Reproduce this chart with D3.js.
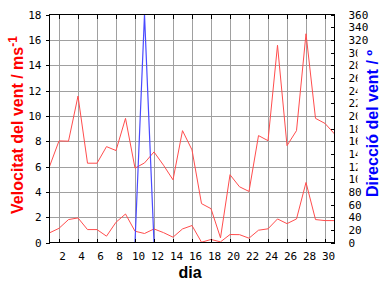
<!DOCTYPE html>
<html>
<head>
<meta charset="utf-8">
<script src="https://cdn.jsdelivr.net/npm/d3@7"></script>
<style>
body { margin: 0; background: white; }
svg { display: block; }
</style>
</head>
<body>
<script>
// days of the month (one point a day, last point repeats the 30th)
const days = d3.range(1, 32);
// average wind speed, m/s
const speedAvg = [0.76, 1.12, 1.81, 1.94, 1.02, 1.02, 0.5, 1.6, 2.25, 0.89, 0.71, 1.07, 0.78, 0.42, 1.07, 1.34, 0.02, 0.24, 0.05, 0.63, 0.62, 0.34, 0.97, 1.08, 1.86, 1.49, 1.86, 4.74, 1.81, 1.73, 1.73];
// max wind speed (gust), m/s
const speedMax = [6.0, 8.02, 8.0, 11.56, 6.26, 6.26, 7.57, 7.26, 9.8, 5.87, 6.28, 7.15, 6.1, 4.95, 8.83, 7.31, 3.07, 2.67, 0.37, 5.35, 4.4, 4.03, 8.44, 8.04, 15.57, 7.65, 8.83, 16.48, 9.8, 9.4, 8.57];
// wind direction, degrees
const direction = [0, 0, 0, 0, 0, 0, 0, 0, 0, 0, 360, 0, 0, 0, 0, 0, 0, 0, 0, 0, 0, 0, 0, 0, 0, 0, 0, 0, 0, 0, 0];

const xTicks = d3.range(2, 31, 2);
const speedTicks = d3.range(0, 19, 2);
const dirTicks = d3.range(0, 361, 20);

const width = 384, height = 288;
const plotL = 49.5, plotR = 334.5, plotT = 14.5, plotB = 242.5;

const svg = d3.select("body").append("svg")
    .attr("width", width)
    .attr("height", height)
    .style("background", "white");

const x = d3.scaleLinear().domain([1, 31]).range([plotL, plotR]);
const y = d3.scaleLinear().domain([0, 18]).range([plotB, plotT]);
const yDir = d3.scaleLinear().domain([0, 360]).range([plotB, plotT]);

// grid
const grid = svg.append("g")
    .attr("stroke", "#a0a0a0")
    .attr("shape-rendering", "crispEdges");
grid.selectAll(".gx").data(xTicks).enter().append("line")
    .attr("x1", d => Math.round(x(d)) + 0.5).attr("x2", d => Math.round(x(d)) + 0.5)
    .attr("y1", plotT).attr("y2", plotB);
grid.selectAll(".gy").data(speedTicks.filter(d => d > 0 && d < 18)).enter().append("line")
    .attr("x1", plotL).attr("x2", plotR)
    .attr("y1", d => Math.round(y(d)) + 0.5).attr("y2", d => Math.round(y(d)) + 0.5);

// lines
const line = d3.line().x((d, i) => x(days[i])).y(d => y(d));
const lineDir = d3.line().x((d, i) => x(days[i])).y(d => yDir(d));

svg.append("path").datum(speedMax)
    .attr("d", line).attr("fill", "none")
    .attr("stroke", "#ff4d4d").attr("stroke-width", 1);
svg.append("path").datum(speedAvg)
    .attr("d", line).attr("fill", "none")
    .attr("stroke", "#ff4d4d").attr("stroke-width", 1);
svg.append("path").datum(direction)
    .attr("d", lineDir).attr("fill", "none")
    .attr("stroke", "#4a4aff").attr("stroke-width", 1.2);

// axes
const tickFont = "'DejaVu Sans Mono', monospace";

const yAxis = svg.append("g")
    .attr("transform", `translate(${plotL},0)`)
    .call(d3.axisLeft(y).tickValues(speedTicks).tickSizeInner(4).tickSizeOuter(0).tickPadding(4));

const yAxisR = svg.append("g")
    .attr("transform", `translate(${plotR},0)`)
    .call(d3.axisRight(yDir).tickValues(dirTicks).tickSizeInner(-4).tickSizeOuter(0).tickPadding(14));

const xAxis = svg.append("g")
    .attr("transform", `translate(0,${plotB})`)
    .call(d3.axisBottom(x).tickValues(xTicks).tickSizeInner(-4).tickSizeOuter(0).tickPadding(10));

const xAxisTop = svg.append("g")
    .attr("transform", `translate(0,${plotT})`)
    .call(d3.axisTop(x).tickValues(xTicks).tickSizeInner(-4).tickSizeOuter(0).tickFormat(""));

[yAxis, yAxisR, xAxis, xAxisTop].forEach(a => {
    a.select(".domain").remove();
    a.selectAll("line").attr("stroke", "#000").attr("shape-rendering", "crispEdges");
    a.selectAll("text")
        .attr("font-family", tickFont)
        .attr("font-size", 11)
        .attr("fill", "#000");
});
xAxis.selectAll("text").attr("dx", 3);

// frame
svg.append("rect")
    .attr("x", plotL).attr("y", plotT)
    .attr("width", plotR - plotL).attr("height", plotB - plotT)
    .attr("fill", "none").attr("stroke", "#000")
    .attr("shape-rendering", "crispEdges");

// titles
svg.append("text")
    .attr("transform", "translate(23,125) rotate(-90)")
    .attr("text-anchor", "middle")
    .attr("font-family", "'Liberation Sans', Arial, sans-serif")
    .attr("font-weight", "bold")
    .attr("font-size", 16)
    .attr("fill", "#ff0000")
    .text("Velocitat del vent / ms")
    .append("tspan")
    .attr("font-size", 12)
    .attr("dy", -6)
    .text("-1");

svg.append("rect")
    .attr("x", 357.5).attr("y", 44)
    .attr("width", 27).attr("height", 142)
    .attr("fill", "white");

svg.append("text")
    .attr("transform", "translate(378,123.5) rotate(-90)")
    .attr("text-anchor", "middle")
    .attr("font-family", "'Liberation Sans', Arial, sans-serif")
    .attr("font-weight", "bold")
    .attr("font-size", 16)
    .attr("fill", "#0000ff")
    .text("Direcció del vent / º");

svg.append("text")
    .attr("x", 190).attr("y", 278)
    .attr("text-anchor", "middle")
    .attr("font-family", "'Liberation Sans', Arial, sans-serif")
    .attr("font-weight", "bold")
    .attr("font-size", 16)
    .attr("fill", "#000")
    .text("dia");
</script>
</body>
</html>
